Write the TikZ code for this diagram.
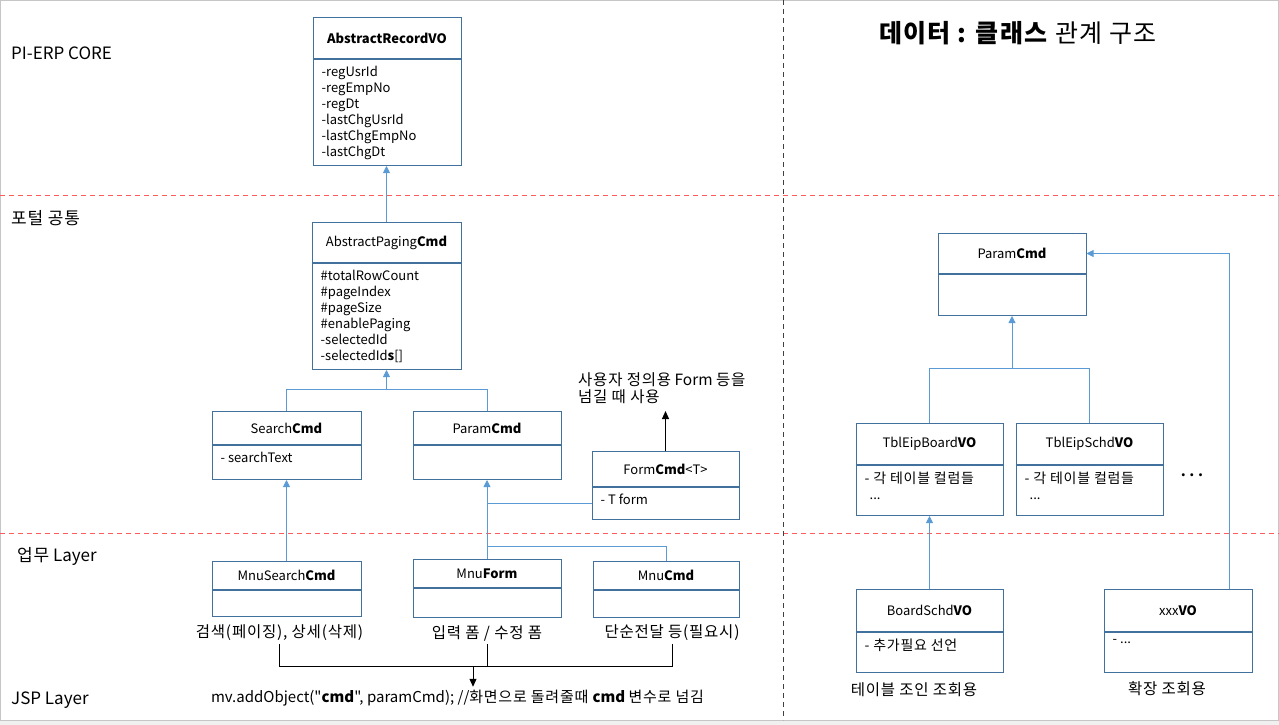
\documentclass[tikz,border=0pt]{standalone}
\usepackage{fontspec}
\setmainfont{Noto Sans CJK KR}[Ligatures=TeXOff]
\newfontfamily\kr[LetterSpace=5]{Noto Sans CJK KR}
\usetikzlibrary{arrows.meta}
\definecolor{boxc}{HTML}{41719C}
\definecolor{linkc}{HTML}{5B9BD5}
\definecolor{redd}{HTML}{FF5B5B}
\tikzset{
 hdr/.style={draw=boxc, line width=1pt, fill=white, inner sep=0pt, font=\fontsize{13}{16}\selectfont},
 bodyb/.style={draw=boxc, line width=1pt, fill=white, inner sep=0pt},
 attr/.style={inner sep=0pt, anchor=north west, align=left, font=\fontsize{13}{16}\selectfont},
 link/.style={draw=linkc, line width=0.9pt},
 inh/.style={link, -{Triangle[width=7pt,length=7pt]}},
 lbl/.style={font=\fontsize{15.5}{17}\selectfont, inner sep=3pt},
 side/.style={font=\fontsize{17}{20}\selectfont, anchor=west, inner sep=0pt},
 blk/.style={draw=black, line width=1pt},
 blkarr/.style={blk, -{Triangle[width=7pt,length=8pt]}},
 sep/.style={draw=redd, dash pattern=on 5pt off 4pt, line width=0.8pt},
 vsep/.style={draw=black!75, dash pattern=on 5pt off 4pt, line width=0.9pt},
}
\newcommand{\umlbox}[8]{%
 \node[hdr, minimum width=#4pt, minimum height=#5pt, anchor=north] (#1) at (#2,#3) {#7};
 \node[bodyb, minimum width=#4pt, minimum height=#6pt, anchor=north] (#1-b) at (#1.south) {};
 \node[attr] (#1-t) at ([xshift=9pt,yshift=-7pt]#1-b.north west) {#8};
}
\begin{document}
\begin{tikzpicture}[x=1pt,y=-1pt]
\path[use as bounding box] (0,0) rectangle (1279,725);
\fill[gray!12] (0,720) rectangle (1279,725);
\draw[gray!45, line width=0.8pt] (0.4,0.4) rectangle (1278.6,720);
% separators
\draw[sep] (0,195) -- (1279,195);
\draw[sep] (0,533) -- (1279,533);
\draw[vsep] (783,0) -- (783,720);
% side labels
\node[side] (s1) at (11,53) {PI-ERP CORE};
\node[side] (s2) at (11,218) {\kr 포털 공통};
\node[side] (s3) at (17,556) {{\kr 업무} Layer};
\node[side] (s4) at (11,700) {JSP Layer};
% left boxes
\umlbox{arvo}{387}{17}{148}{41}{106}{\textbf{AbstractRecordVO}}{-regUsrId\\-regEmpNo\\-regDt\\-lastChgUsrId\\-lastChgEmpNo\\-lastChgDt}
\umlbox{apc}{386.5}{222}{149}{40}{106}{AbstractPaging\textbf{Cmd}}{\#totalRowCount\\\#pageIndex\\\#pageSize\\\#enablePaging\\-selectedId\\-selectedId\textbf{s}[]}
\umlbox{search}{286.5}{411}{149}{33}{34}{Search\textbf{Cmd}}{- searchText}
\umlbox{paramL}{487}{411}{148}{33}{34}{Param\textbf{Cmd}}{}
\umlbox{form}{665.5}{451}{147}{35}{32}{Form\textbf{Cmd}<T>}{- T form}
\umlbox{mnus}{286.5}{561}{149}{28}{26}{MnuSearch\textbf{Cmd}}{}
\umlbox{mnuf}{487}{559}{148}{28}{29}{Mnu\textbf{Form}}{}
\umlbox{mnuc}{666}{561}{146}{28}{27}{Mnu\textbf{Cmd}}{}
% right boxes
\umlbox{paramR}{1012}{233}{148}{40}{41}{Param\textbf{Cmd}}{}
\umlbox{tblb}{929.5}{423}{147}{41}{50}{TblEipBoard\textbf{VO}}{{\kr\fontsize{14}{16}\selectfont - 각 테이블 컬럼들}\\\hspace*{5pt}...}
\umlbox{tbls}{1089.5}{423}{147}{41}{50}{TblEipSchd\textbf{VO}}{{\kr\fontsize{14}{16}\selectfont - 각 테이블 컬럼들}\\\hspace*{5pt}...}
\umlbox{bsvo}{929.5}{589}{147}{42}{40}{BoardSchd\textbf{VO}}{{\kr\fontsize{14}{16}\selectfont - 추가필요 선언}}
\umlbox{xxx}{1178}{589}{148}{42}{40}{xxx\textbf{VO}}{- ...}
% left connectors
\draw[inh] (apc.north) -- (apc.north |- arvo-b.south);
\coordinate (j1) at (386.5,389);
\draw[link] (search.north) |- (paramL.north |- j1) -- (paramL.north);
\draw[inh] (j1) -- (apc-b.south);
\draw[inh] (mnus.north) -- (search-b.south);
\draw[inh] (mnuf.north) -- (paramL-b.south);
\draw[link] (form-b.west) -- (form-b.west -| paramL.south);
\coordinate (j2) at (487,546);
\draw[link] (mnuc.north) |- (j2);
\coordinate (fa) at (665.5,411);
\draw[blkarr] (form.north) -- (fa);
\node[lbl, anchor=south west, align=left, inner sep=0pt] (note) at (578,404) {{\kr 사용자 정의용} Form {\kr 등을}\\{\kr 넘길 때 사용}};
% bottom labels
\node[lbl] (l1) at (279.5,633) {\kr 검색(페이징), 상세(삭제)};
\node[lbl] (l2) at (487,633) {\kr 입력 폼 / 수정 폼};
\node[lbl] (l3) at (672,633) {\kr 단순전달 등(필요시)};
\node[lbl, font=\fontsize{15}{17}\selectfont] (mv) at (457.5,698) {mv.addObject("\textbf{cmd}", paramCmd); //{\kr 화면으로 돌려줄때} \textbf{cmd} {\kr 변수로 넘김}};
\coordinate (hb) at (473,666);
\draw[blk] (l1.south) |- (hb -| l3.south) -- (l3.south);
\draw[blk] (l2.south) -- (l2.south |- hb);
\draw[blkarr] (hb) -- (hb |- mv.north);
% right connectors
\coordinate (j3) at (1012,368);
\draw[inh] (j3) -- (paramR-b.south);
\draw[link] (tblb.north) |- (tbls.north |- j3) -- (tbls.north);
\draw[inh] (bsvo.north) -- (tblb-b.south);
\coordinate (xr) at (1229,589);
\draw[inh] (xr) |- (paramR.east);
\node[font=\fontsize{14}{16}\selectfont] (dots) at (1192,477) {\textbf{···}};
\node[lbl] (l4) at (914,690) {\kr 테이블 조인 조회용};
\node[lbl] (l5) at (1167,689) {\kr 확장 조회용};
\node[font=\fontsize{25}{28}\selectfont] (title) at (1018,33) {\kr\textbf{데이터 : 클래스} 관계 구조};
\end{tikzpicture}
\end{document}
